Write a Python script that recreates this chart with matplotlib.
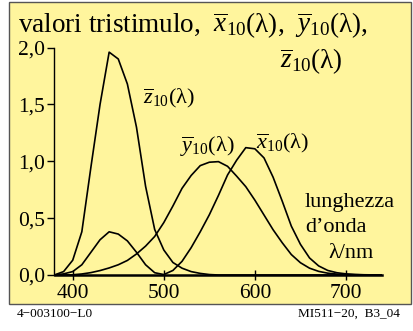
import matplotlib
matplotlib.use("Agg")
import matplotlib.pyplot as plt
from matplotlib.patches import Rectangle

plt.rcParams['font.family'] = ['Liberation Serif', 'DejaVu Serif']
plt.rcParams['mathtext.fontset'] = 'custom'
plt.rcParams['mathtext.rm'] = 'Liberation Serif'
plt.rcParams['mathtext.it'] = 'Liberation Serif:italic'

# wavelength in nm, CIE 1964 10 degree colour matching functions
wavelength = [380, 390, 400, 410, 420, 430, 440, 450, 460, 470, 480, 490, 500,
              510, 520, 530, 540, 550, 560, 570, 580, 590, 600, 610, 620, 630,
              640, 650, 660, 670, 680, 690, 700, 710, 720, 730, 740]
x10 = [0.0002, 0.01, 0.03, 0.09, 0.20, 0.31, 0.38, 0.36, 0.30, 0.20, 0.09, 0.02, 0.004,
       0.04, 0.12, 0.24, 0.38, 0.53, 0.70, 0.88, 1.01, 1.12, 1.11, 1.03, 0.86, 0.65,
       0.43, 0.27, 0.15, 0.08, 0.04, 0.02, 0.01, 0.005, 0.002, 0.001, 0.0005]
y10 = [0.0, 0.0003, 0.002, 0.009, 0.021, 0.039, 0.062, 0.090, 0.128, 0.185, 0.254, 0.339, 0.461,
       0.607, 0.762, 0.875, 0.962, 0.992, 0.997, 0.956, 0.869, 0.777, 0.658, 0.528, 0.398, 0.284,
       0.180, 0.108, 0.060, 0.032, 0.016, 0.008, 0.004, 0.002, 0.001, 0.0004, 0.0002]
z10 = [0.0007, 0.03, 0.13, 0.38, 0.95, 1.50, 1.96, 1.90, 1.68, 1.30, 0.78, 0.40, 0.22,
       0.11, 0.06, 0.03, 0.014, 0.004, 0.0, 0.0, 0.0, 0.0, 0.0, 0.0, 0.0, 0.0,
       0.0, 0.0, 0.0, 0.0, 0.0, 0.0, 0.0, 0.0, 0.0, 0.0, 0.0]

xticks = [400, 500, 600, 700]
yticks = [0.0, 0.5, 1.0, 1.5, 2.0]
ytick_labels = ['0,0', '0,5', '1,0', '1,5', '2,0']

W, H = 413, 331
fig = plt.figure(figsize=(W / 100, H / 100), dpi=100)
fig.patch.set_facecolor('white')


def px(x, y):
    # pixel position (from top left) -> figure fraction
    return x / W, 1 - y / H


# yellow frame behind the axes
fig.patches.append(Rectangle((9 / W, 1 - 304 / H), 402 / W, 302 / H,
                             transform=fig.transFigure, facecolor='#fff59d',
                             edgecolor='#555555', linewidth=1.0, zorder=-5))

ax = fig.add_axes([54.5 / W, 1 - 275 / H, (382.4 - 54.5) / W, (275 - 47.6) / H])
ax.set_zorder(2)
ax.set_facecolor('none')
for name, data in [('x', x10), ('y', y10), ('z', z10)]:
    ax.plot(wavelength, data, color='black', linewidth=1.2, solid_joinstyle='round')

ax.set_xlim(380, 740)
ax.set_ylim(0, 2.0)
ax.spines['top'].set_visible(False)
ax.spines['right'].set_visible(False)
ax.spines['left'].set_linewidth(1.0)
ax.spines['bottom'].set_linewidth(1.8)
ax.set_xticks(xticks)
ax.set_xticklabels([str(t) for t in xticks])
ax.set_yticks(yticks)
ax.set_yticklabels(ytick_labels)
ax.tick_params(axis='x', direction='inout', length=7, width=1.0, pad=3, labelsize=15.5)
ax.tick_params(axis='y', direction='out', length=5, width=1.0, pad=2, labelsize=15.5)

fs = 19.5
fig.text(*px(18, 32), r'valori tristimulo,  $\overline{x}_{10}$(λ),  $\overline{y}_{10}$(λ),',
         fontsize=fs, va='baseline', ha='left')
fig.text(*px(280, 68), r'$\overline{z}_{10}$(λ)', fontsize=fs, va='baseline', ha='left')

ls = 16
fig.text(*px(143, 103), r'$\overline{z}_{10}$(λ)', fontsize=ls, va='baseline', ha='left')
fig.text(*px(180, 152), r'$\overline{y}_{10}$(λ)', fontsize=ls, va='baseline', ha='left')
fig.text(*px(256, 148), r'$\overline{x}_{10}$(λ)', fontsize=ls, va='baseline', ha='left')

fig.text(*px(305, 207), 'lunghezza', fontsize=ls, va='baseline', ha='left')
fig.text(*px(305, 232), 'd’onda', fontsize=ls, va='baseline', ha='left')
fig.text(*px(328, 258), 'λ/nm', fontsize=ls, va='baseline', ha='left')

fig.text(*px(17, 317), '4−003100−L0', fontsize=9.5, va='baseline', ha='left')
fig.text(*px(400, 317), 'MI511−20,  B3_04', fontsize=9.5, va='baseline', ha='right')

fig.savefig('out.png', dpi=100)
